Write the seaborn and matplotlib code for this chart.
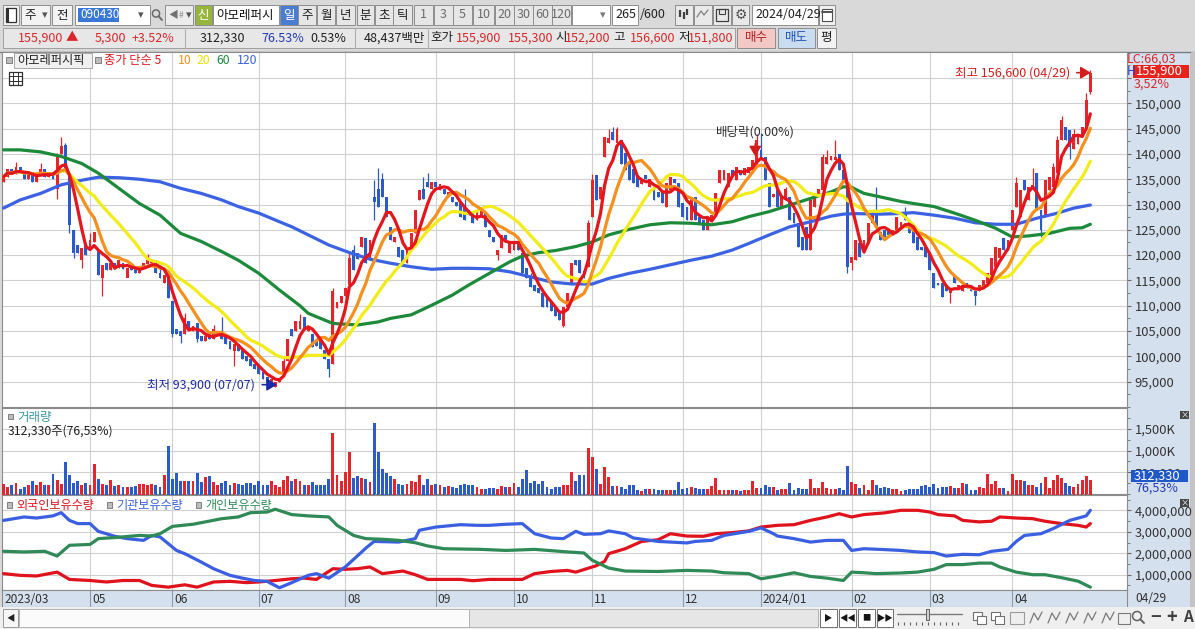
import numpy as np
import pandas as pd
import matplotlib
matplotlib.use("Agg")
import matplotlib.pyplot as plt
import matplotlib.transforms as mtransforms
from matplotlib.patches import Rectangle, Circle
from matplotlib.ticker import FixedLocator, FixedFormatter, MultipleLocator
import seaborn as sns

W, H = 1195, 629

# 일봉 (천원), 2023/03/31 ~ 2024/04/29, 265개
OPEN_K = [
    134.5, 135.5, 137.0, 136.0, 137.5, 136.5, 135.0, 136.5, 134.5, 136.0,
    137.0, 135.5, 136.5, 133.0, 140.0, 141.8, 136.0, 125.0, 122.0, 119.0,
    122.0, 121.0, 122.5, 121.0, 115.5, 118.5, 117.0, 118.5, 117.5, 118.5,
    115.5, 117.5, 117.5, 116.5, 117.5, 118.3, 118.5, 119.0, 116.5, 114.5,
    116.0, 111.0, 105.5, 105.0, 104.5, 107.0, 105.0, 106.5, 104.0, 103.0,
    104.5, 103.5, 104.5, 105.0, 104.0, 103.0, 101.0, 102.5, 101.5, 100.0,
    99.5, 98.5, 98.0, 97.0, 96.0, 94.5, 94.0, 95.0, 96.5, 99.0,
    105.5, 105.0, 105.5, 107.8, 105.0, 104.5, 103.0, 103.5, 101.3, 99.5,
    98.5, 109.5, 110.5, 112.0, 114.0, 121.0, 120.5, 121.6, 123.4, 119.0,
    131.5, 133.0, 135.0, 131.5, 125.6, 122.5, 121.6, 121.0, 118.4, 121.6,
    124.4, 130.9, 133.0, 134.5, 133.0, 134.5, 132.8, 133.0, 131.5, 131.5,
    130.5, 130.3, 130.0, 129.0, 128.5, 127.0, 127.5, 128.3, 125.0, 123.6,
    120.0, 121.5, 124.0, 120.5, 121.0, 122.5, 120.4, 117.5, 115.7, 114.0,
    113.5, 112.5, 111.5, 111.0, 109.8, 108.5, 106.0, 109.8, 114.4, 119.0,
    119.0, 116.8, 117.7, 127.5, 135.8, 131.0, 139.4, 142.2, 144.3, 142.2,
    142.8, 140.2, 138.1, 137.0, 135.8, 134.0, 135.8, 133.5, 133.5, 132.5,
    132.3, 129.6, 132.9, 135.0, 134.3, 130.3, 129.6, 127.0, 131.5, 127.5,
    127.0, 125.0, 126.5, 128.3, 134.3, 134.9, 133.5, 136.8, 134.9, 136.8,
    135.8, 136.2, 136.8, 138.1, 140.8, 139.4, 134.3, 131.5, 132.9, 129.6,
    130.9, 131.5, 128.3, 126.3, 123.6, 125.6, 121.0, 129.6, 132.0, 132.9,
    138.1, 138.8, 138.8, 140.0, 136.8, 133.5, 118.4, 119.0, 122.4, 120.5,
    122.4, 126.3, 128.0, 124.6, 125.0, 125.0, 124.0, 125.0, 125.5, 128.3,
    127.0, 125.6, 123.6, 121.6, 121.6, 120.4, 116.5, 114.5, 114.4, 114.0,
    112.5, 116.0, 113.5, 113.0, 114.5, 114.0, 113.0, 113.0, 113.8, 114.4,
    115.0, 117.7, 119.5, 123.4, 121.0, 125.0, 129.6, 127.5, 134.9, 130.9,
    133.0, 136.2, 128.9, 127.5, 132.9, 133.5, 136.2, 142.8, 145.3, 144.7,
    141.0, 142.0, 143.4, 145.3, 152.2,
]
CLOSE_K = [
    135.5, 137.0, 136.0, 137.5, 136.5, 135.0, 136.5, 134.5, 136.0, 137.0,
    135.5, 136.5, 135.0, 139.5, 141.5, 137.0, 126.0, 120.5, 120.5, 121.5,
    120.0, 123.0, 124.5, 116.0, 118.0, 117.0, 118.5, 117.5, 119.0, 117.3,
    117.5, 117.0, 116.5, 117.5, 118.5, 119.0, 119.0, 116.5, 115.5, 116.0,
    111.5, 104.5, 104.5, 104.0, 107.5, 105.5, 106.0, 103.5, 103.0, 104.0,
    103.5, 105.5, 105.0, 103.5, 102.5, 101.5, 102.5, 101.0, 99.5, 99.0,
    98.0, 97.5, 96.5, 95.5, 95.0, 95.5, 95.0, 95.8, 99.0, 103.5,
    104.0, 107.0, 107.0, 105.2, 106.0, 101.8, 102.0, 101.5, 99.5, 97.5,
    113.0, 110.7, 112.0, 113.5, 119.5, 117.0, 119.3, 123.6, 118.5, 123.0,
    130.5, 129.6, 131.5, 127.5, 123.0, 123.5, 119.7, 118.5, 121.0, 124.4,
    128.9, 132.9, 131.0, 133.5, 134.5, 133.5, 134.0, 132.0, 132.5, 130.5,
    129.8, 127.5, 127.0, 128.0, 126.3, 128.5, 128.8, 125.6, 123.6, 122.5,
    121.0, 124.0, 122.5, 122.5, 122.5, 121.0, 116.5, 115.5, 113.8, 113.0,
    112.5, 109.8, 109.8, 109.0, 107.9, 107.2, 109.8, 112.5, 118.4, 118.0,
    116.5, 115.5, 126.3, 134.9, 130.9, 133.5, 143.4, 143.2, 142.8, 145.0,
    138.1, 136.8, 134.9, 134.2, 133.5, 135.0, 135.0, 135.0, 130.9, 131.5,
    130.3, 134.3, 135.5, 134.3, 129.6, 127.5, 127.0, 131.5, 127.0, 126.3,
    125.0, 127.5, 128.0, 132.3, 136.8, 136.8, 136.2, 135.8, 137.5, 135.8,
    137.2, 137.5, 138.8, 142.8, 139.4, 134.9, 129.6, 132.0, 129.6, 131.5,
    133.0, 127.0, 126.3, 121.6, 121.0, 121.0, 130.9, 132.3, 133.0, 139.4,
    139.4, 139.5, 139.4, 136.8, 134.9, 117.7, 119.7, 123.0, 119.7, 123.0,
    126.3, 128.9, 125.6, 123.0, 123.5, 124.0, 125.0, 127.6, 126.5, 127.0,
    124.4, 122.4, 121.0, 121.0, 119.7, 117.0, 113.6, 114.0, 111.8, 113.0,
    113.5, 114.5, 114.0, 114.0, 113.5, 113.0, 112.0, 114.0, 115.0, 116.5,
    119.4, 121.6, 121.5, 121.0, 123.0, 128.9, 134.3, 132.9, 132.9, 133.5,
    133.8, 128.9, 125.0, 134.9, 135.5, 137.5, 142.8, 146.7, 142.8, 141.3,
    144.0, 143.8, 145.3, 150.6, 155.9,
]
# 꼬리가 보이는 날만
HIGH_K = {3: 138.5, 9: 138.3, 13: 140.2, 14: 143.3, 15: 142.2, 21: 124.3, 35: 120.2,
          38: 117.5, 44: 108.5, 51: 106.2, 53: 107.7, 68: 99.8, 72: 108.3, 80: 113.5,
          84: 120.5, 85: 122.0, 90: 134.9, 91: 137.2, 92: 136.2, 102: 135.5, 103: 136.2,
          112: 133.0, 128: 116.5, 142: 127.0, 143: 136.0, 147: 145.0, 148: 145.3,
          149: 145.3, 183: 144.0, 184: 144.1, 190: 133.5, 199: 140.0, 200: 140.8,
          202: 142.8, 212: 133.5, 219: 129.5, 246: 135.5, 250: 137.2, 255: 138.2,
          256: 143.5, 257: 147.5, 260: 145.0, 263: 152.0, 264: 156.6}
LOW_K = {13: 131.0, 16: 124.4, 17: 119.5, 19: 117.5, 24: 112.0, 30: 115.6, 41: 103.8,
         43: 102.6, 47: 102.8, 56: 98.0, 66: 93.9, 79: 96.0, 90: 127.0, 120: 119.0,
         136: 105.8, 142: 117.7, 205: 116.5, 206: 117.0, 230: 110.6, 236: 110.1,
         252: 123.6, 259: 139.0, 264: 151.8}

# 거래량 (천주)
VOL_K = [
    235, 152, 212, 258, 121, 152, 197, 303, 212, 280, 197, 197, 462, 326, 235, 735, 440, 258, 303, 197,
    258, 212, 690, 349, 235, 197, 326, 174, 197, 152, 152, 152, 174, 235, 235, 197, 235, 212, 152, 440,
    1099, 349, 485, 303, 303, 303, 303, 485, 280, 402, 417, 280, 197, 258, 303, 197, 258, 235, 212, 258,
    258, 212, 303, 197, 197, 303, 197, 152, 326, 417, 303, 349, 303, 197, 197, 280, 197, 212, 197, 349,
    1395, 440, 303, 508, 963, 371, 417, 371, 349, 280, 1637, 963, 576, 485, 417, 349, 235, 212, 235, 303,
    280, 440, 197, 349, 197, 235, 212, 152, 174, 152, 129, 212, 235, 212, 212, 152, 106, 106, 129, 129,
    106, 190, 167, 152, 258, 152, 349, 553, 258, 303, 235, 303, 152, 106, 167, 152, 212, 197, 508, 303,
    440, 440, 1054, 849, 576,
    235, 622, 394, 190, 190, 167, 121, 212, 212, 99, 76, 121, 106, 121, 99, 99, 99, 83, 99, 280,
    106, 129, 152, 144, 121, 106, 121, 190, 371, 99, 83, 83, 83, 83, 68, 99, 83, 303, 144, 144,
    212, 167, 167, 99, 121, 106, 258, 99, 144, 106, 121, 349, 144, 144, 280, 144, 106, 121, 144, 99,
    644, 280, 235, 144, 212, 99, 326, 212, 144, 167, 129, 121, 121, 76, 99, 121, 121, 121, 190, 212,
    167, 235, 144, 167, 167, 190, 129, 129, 258, 235, 99, 99, 167, 144, 462, 235, 303, 144, 144, 76,
    462, 326, 326, 296, 212, 212, 167, 258, 394, 144, 326, 440, 371, 258, 190, 167, 235, 326, 417, 312.33,
]

# 60일, 120일 이동평균 (그림에서 읽음, 천원)
MA60_IDX = [0, 4, 9, 14, 19, 23, 28, 33, 38, 43, 48, 53, 57, 62, 67, 72, 74, 80, 86, 91,
            94, 99, 104, 109, 113, 118, 123, 126, 130, 134, 139, 143, 147, 152, 157, 162, 167, 172, 177, 181,
            186, 191, 196, 201, 204, 206, 209, 213, 218, 221, 226, 231, 236, 241, 245, 249, 254, 259, 262, 264]
MA60_K = [140.8, 140.8, 140.4, 139.5, 138.1, 136.2, 133.2, 130.2, 127.9, 124.3,
          122.7, 120.7, 119.0, 116.4, 113.1, 110.0, 108.5, 106.5, 106.2, 106.8,
          107.5, 108.2, 110.1, 112.1, 114.1, 116.4, 118.7, 119.8, 120.5, 120.9,
          121.7, 122.6, 124.0, 125.1, 126.0, 126.4, 126.3, 126.0, 126.6, 127.6,
          128.6, 129.9, 131.2, 132.5, 133.5, 133.4, 132.2, 131.5, 130.6, 130.2,
          129.6, 128.3, 126.9, 125.3, 123.6, 123.8, 124.3, 125.3, 125.4, 126.1]
MA120_IDX = [0, 4, 9, 14, 19, 23, 28, 33, 38, 43, 48, 53, 57, 62, 67, 70, 74, 79, 84, 89,
             94, 99, 104, 109, 113, 118, 123, 128, 133, 138, 143, 147, 152, 157, 162, 167, 172, 177, 181, 186,
             191, 196, 201, 204, 207, 213, 217, 221, 226, 231, 236, 241, 246, 251, 256, 260, 264]
MA120_K = [129.3, 130.9, 132.2, 133.9, 134.8, 135.4, 135.3, 135.0, 134.5, 133.2,
           132.2, 130.9, 129.6, 128.3, 126.6, 125.6, 124.0, 122.0, 120.5, 119.2,
           118.4, 117.7, 117.2, 117.4, 117.4, 117.3, 116.7, 115.7, 114.7, 114.3,
           114.3, 115.4, 116.4, 117.2, 118.1, 119.0, 119.8, 121.0, 122.3, 124.0,
           125.6, 126.6, 127.7, 128.1, 128.2, 128.1, 128.2, 128.4, 127.9, 127.3,
           126.4, 126.1, 126.1, 127.3, 128.3, 129.3, 129.9]

# 보유수량 (백만주)
FOR_IDX = [0, 4, 8, 13, 16, 21, 25, 29, 33, 36, 40, 44, 47, 51, 55, 59, 62, 66, 70, 73,
           76, 80, 83, 86, 89, 92, 97, 100, 103, 107, 111, 114, 118, 122, 126, 129, 133, 137, 139, 142,
           144, 146, 147, 151, 155, 159, 162, 166, 170, 173, 177, 181, 184, 188, 192, 196, 200, 203, 206, 209,
           214, 218, 222, 225, 227, 231, 233, 237, 240, 242, 246, 250, 253, 257, 261, 263, 264]
FOR_M = [1.05, 0.97, 0.94, 1.12, 0.78, 0.73, 0.66, 0.73, 0.73, 0.50,
         0.42, 0.53, 0.42, 0.66, 0.69, 0.63, 0.66, 0.73, 0.81, 0.84,
         0.78, 1.28, 1.25, 1.28, 1.36, 1.05, 1.17, 1.00, 0.78, 0.78,
         0.78, 0.72, 0.78, 0.78, 0.78, 1.05, 1.15, 1.20, 1.12, 1.30,
         1.42, 1.62, 1.98, 2.21, 2.55, 2.63, 2.91, 2.80, 2.79, 2.91,
         2.96, 3.04, 3.22, 3.30, 3.33, 3.53, 3.69, 3.84, 3.69, 3.80,
         3.88, 4.00, 4.00, 3.92, 3.80, 3.74, 3.53, 3.46, 3.49, 3.69,
         3.64, 3.61, 3.49, 3.38, 3.30, 3.22, 3.38]
INS_IDX = [0, 5, 8, 12, 14, 16, 18, 21, 23, 27, 30, 34, 36, 38, 42, 44, 48, 51, 55, 58,
           61, 64, 67, 70, 74, 76, 79, 83, 87, 88, 90, 96, 100, 101, 105, 111, 115, 118, 122, 126,
           129, 133, 136, 139, 141, 145, 147, 151, 153, 159, 162, 166, 168, 172, 175, 181, 184, 187, 188, 192,
           196, 200, 204, 206, 209, 214, 218, 222, 226, 229, 233, 237, 240, 244, 246, 248, 252, 255, 259, 263, 264]
INS_M = [3.53, 3.69, 3.64, 3.74, 3.89, 3.53, 3.38, 3.38, 3.02, 2.79,
         2.68, 2.60, 2.83, 2.76, 2.13, 1.98, 1.59, 1.28, 0.97, 0.84,
         0.73, 0.69, 0.39, 0.63, 0.97, 1.05, 0.84, 1.36, 2.06, 2.24,
         2.55, 2.52, 2.68, 3.07, 3.22, 3.33, 3.30, 3.30, 3.35, 3.38,
         2.91, 2.71, 2.68, 3.02, 2.88, 2.91, 3.04, 2.91, 2.71, 2.55,
         2.52, 2.48, 2.55, 2.60, 2.83, 3.02, 3.18, 2.91, 2.80, 2.68,
         2.52, 2.60, 2.60, 2.13, 2.21, 2.17, 2.13, 2.06, 2.03, 1.87,
         1.95, 1.93, 2.09, 2.18, 2.55, 2.83, 2.91, 3.15, 3.53, 3.74, 4.00]
IND_IDX = [0, 5, 10, 13, 16, 21, 23, 27, 33, 36, 38, 41, 46, 49, 53, 57, 60, 64, 66, 70,
           74, 79, 81, 85, 88, 92, 96, 100, 103, 107, 116, 122, 129, 137, 141, 143, 147, 151, 159, 166,
           172, 175, 181, 184, 188, 192, 196, 200, 204, 206, 209, 212, 218, 222, 226, 229, 233, 237, 240, 242,
           246, 250, 253, 257, 261, 264]
IND_M = [2.09, 2.06, 2.09, 1.87, 2.37, 2.41, 2.68, 2.73, 2.83, 2.80,
         2.91, 3.25, 3.35, 3.46, 3.61, 3.69, 3.89, 3.92, 4.05, 3.80,
         3.74, 3.69, 3.30, 2.83, 2.68, 2.65, 2.60, 2.49, 2.34, 2.21,
         2.18, 2.13, 2.18, 2.06, 2.01, 1.67, 1.31, 1.17, 1.15, 1.20,
         1.17, 1.09, 1.05, 0.81, 0.94, 1.09, 0.92, 0.84, 0.73, 1.12,
         1.09, 1.05, 1.08, 1.12, 1.25, 1.47, 1.47, 1.54, 1.54, 1.36,
         1.12, 1.00, 1.00, 0.86, 0.70, 0.42]

MONTH_IDX = [0, 21, 41, 62, 83, 105, 124, 143, 165, 184, 206, 225, 245]
MONTH_LBL = ["2023/03", "05", "06", "07", "08", "09", "10", "11", "12", "2024/01", "02", "03", "04"]
PRICE_TICKS = [95000, 100000, 105000, 110000, 115000, 120000, 125000, 130000,
               135000, 140000, 145000, 150000, 155000]
PRICE_LBL = [f"{v:,}" for v in PRICE_TICKS[:-1]] + [""]   # 155,000 은 현재가 박스에 가려짐
VOL_TICKS = [500, 1000, 1500]
VOL_LBL = ["500,000", "1,000K", "1,500K"]
HOLD_TICKS = [1, 2, 3, 4]
HOLD_LBL = ["1,000,000", "2,000,000", "3,000,000", "4,000,000"]

C_UP, C_DN = '#e4252b', '#2a5bc9'
C_RED, C_BLUE, C_GREEN = '#d8262a', '#2338b8', '#2f8a58'
MA_COL = {5: '#e3161e', 10: '#f5901e', 20: '#f2ec1a', 60: '#1c8a3a', 120: '#3b62e2'}

sns.set_theme(style="white")
plt.rcParams['font.family'] = ['Noto Sans CJK KR', 'DejaVu Sans']
plt.rcParams['axes.unicode_minus'] = False

fig = plt.figure(figsize=(W / 100, H / 100), dpi=100)
fig.patch.set_facecolor('#d9d9d9')


def px_axes(x0, y0, x1, y1, z=2):
    return fig.add_axes([x0 / W, 1 - y1 / H, (x1 - x0) / W, (y1 - y0) / H], zorder=z)


def box(ax, x0, y0, x1, y1, fc, ec='#8e8e8e', lw=0.7, z=1):
    ax.add_patch(Rectangle((x0, y0), x1 - x0, y1 - y0, facecolor=fc,
                           edgecolor=ec, linewidth=lw, zorder=z))


def say(ax, x, y, s, color='#1e1e1e', size=9, ha='left', z=3, **kw):
    ax.text(x, y, s, color=color, fontsize=size, ha=ha, va='center', zorder=z, **kw)


bg = fig.add_axes([0, 0, 1, 1], zorder=0)
bg.set_xlim(0, W); bg.set_ylim(H, 0); bg.axis('off')

# 오른쪽 축 패널 / 날짜 띠
box(bg, 1127, 51, 1190, 607, '#d5e0ee', ec='none')
box(bg, 1190, 51, 1195, 607, '#c4c4c4', ec='none')
bg.plot([0, 1190], [51.5, 51.5], color='#7a7a7a', lw=1)

idx = np.arange(len(CLOSE_K))
o = np.array(OPEN_K) * 1000
c = np.array(CLOSE_K) * 1000
hi = np.maximum(o, c)
lo = np.minimum(o, c)
for k, v in HIGH_K.items():
    hi[k] = v * 1000
for k, v in LOW_K.items():
    lo[k] = v * 1000
col = np.where(c >= o, C_UP, C_DN)
XL = (-0.39, 272.9)


def chart_axes(y0, y1):
    a = px_axes(2, y0, 1127, y1)
    a.set_facecolor('white')
    for s in a.spines.values():
        s.set_color('#8c8c8c'); s.set_linewidth(0.8)
    a.grid(True, color='#d0d0d0', linewidth=0.8)
    a.set_axisbelow(True)
    a.yaxis.tick_right()
    a.tick_params(axis='x', length=0, labelbottom=False)
    a.tick_params(axis='y', which='major', length=3, width=0.8, color='#6a6a6a',
                  pad=2.5, labelsize=9.3, labelcolor='#333333', direction='out')
    a.tick_params(axis='y', which='minor', length=1.8, width=0.6, color='#6a6a6a', direction='out')
    return a


# ---- 가격 ----
ax_p = chart_axes(52, 407)
ax_p.bar(idx, np.maximum(np.abs(c - o), 250), bottom=np.minimum(o, c), width=0.7,
         color=col, linewidth=0, zorder=3)
ax_p.vlines(idx, lo, hi, colors=col, linewidth=0.9, zorder=3)
sns.lineplot(x=np.array(MA120_IDX), y=np.array(MA120_K) * 1000, ax=ax_p,
             color=MA_COL[120], linewidth=2.3, zorder=4)
sns.lineplot(x=np.array(MA60_IDX), y=np.array(MA60_K) * 1000, ax=ax_p,
             color=MA_COL[60], linewidth=2.3, zorder=4)
close_s = pd.Series(c)
for n in (20, 10, 5):
    ma = close_s.rolling(n, min_periods=1).mean().to_numpy()
    sns.lineplot(x=idx, y=ma, ax=ax_p, color=MA_COL[n], linewidth=2.3, zorder=4)
ax_p.set_xlim(*XL)
ax_p.set_ylim(89990, 160140)
ax_p.set_xticks(MONTH_IDX[1:])
ax_p.yaxis.set_major_locator(FixedLocator(PRICE_TICKS))
ax_p.yaxis.set_major_formatter(FixedFormatter(PRICE_LBL))
ax_p.yaxis.set_minor_locator(MultipleLocator(2500))
ax_p.set_xlabel(''); ax_p.set_ylabel('')

ax_p.text(61.1, 94400, '최저 93,900 (07/07)', color='#1c2aa8', fontsize=9,
          ha='right', va='center', zorder=6)
ax_p.annotate('', xy=(66.4, 94400), xytext=(62.8, 94400), zorder=6,
              arrowprops=dict(arrowstyle='-|>,head_length=0.5,head_width=0.3',
                              color='#1c2aa8', lw=1.2, shrinkA=0, shrinkB=0))
ax_p.text(259.1, 156050, '최고 156,600 (04/29)', color='#d21d1d', fontsize=9,
          ha='right', va='center', zorder=6)
ax_p.annotate('', xy=(264.1, 156050), xytext=(260.7, 156050), zorder=6,
              arrowprops=dict(arrowstyle='-|>,head_length=0.5,head_width=0.3',
                              color='#d21d1d', lw=1.2, shrinkA=0, shrinkB=0))
ax_p.text(182.6, 144400, '배당락(0.00%)', color='#303030', fontsize=9,
          ha='center', va='center', zorder=6)
ax_p.annotate('', xy=(182.6, 139500), xytext=(182.6, 142000), zorder=7,
              arrowprops=dict(arrowstyle='-|>,head_length=0.5,head_width=0.3',
                              color='#d21d1d', lw=1.2, shrinkA=0, shrinkB=0))

# ---- 거래량 ----
ax_v = chart_axes(408, 494)
ax_v.bar(idx, np.array(VOL_K), width=0.7, color=col, linewidth=0, zorder=3)
ax_v.set_xlim(*XL)
ax_v.set_ylim(0, 1982)
ax_v.set_xticks(MONTH_IDX[1:])
ax_v.yaxis.set_major_locator(FixedLocator(VOL_TICKS))
ax_v.yaxis.set_major_formatter(FixedFormatter(VOL_LBL))
ax_v.yaxis.set_minor_locator(MultipleLocator(250))

ax_s = px_axes(2, 491.5, 1127, 494.8, z=3)
ax_s.bar(idx, np.ones(len(idx)), width=0.6, color=col, linewidth=0)
ax_s.set_xlim(*XL); ax_s.set_ylim(0, 1)
ax_s.axis('off')

# ---- 보유수량 ----
ax_h = chart_axes(495, 590)
sns.lineplot(x=np.array(FOR_IDX), y=np.array(FOR_M), ax=ax_h, color='#e0121c', linewidth=2.3, zorder=4)
sns.lineplot(x=np.array(INS_IDX), y=np.array(INS_M), ax=ax_h, color='#3a5fe0', linewidth=2.3, zorder=4)
sns.lineplot(x=np.array(IND_IDX), y=np.array(IND_M), ax=ax_h, color='#2f8a58', linewidth=2.3, zorder=4)
ax_h.set_xlim(*XL)
ax_h.set_ylim(0.287, 4.713)
ax_h.set_xticks(MONTH_IDX[1:])
ax_h.yaxis.set_major_locator(FixedLocator(HOLD_TICKS))
ax_h.yaxis.set_major_formatter(FixedFormatter(HOLD_LBL))
ax_h.yaxis.set_minor_locator(MultipleLocator(0.5))
ax_h.set_xlabel(''); ax_h.set_ylabel('')

# ---- 날짜 띠 ----
ax_b = px_axes(2, 590, 1127, 607)
ax_b.set_facecolor('#d5e0ee')
ax_b.set_xlim(*XL); ax_b.set_ylim(0, 1)
ax_b.set_xticks([]); ax_b.set_yticks([])
for s in ax_b.spines.values():
    s.set_color('#8c8c8c'); s.set_linewidth(0.8)
blend = mtransforms.blended_transform_factory(ax_b.transData, ax_b.transAxes)
for i, lbl in zip(MONTH_IDX, MONTH_LBL):
    if i:
        ax_b.axvline(i, color='#8c9bb0', lw=0.8)
    ax_b.text(i + (0.35 if i == 0 else 0.45), 0.47, lbl, transform=blend, fontsize=8.6,
              color='#303030', ha='left', va='center')

# ---- 덮개 (툴바, 라벨) ----
top = fig.add_axes([0, 0, 1, 1], zorder=10)
top.set_xlim(0, W); top.set_ylim(H, 0); top.axis('off')

# 1행
box(top, 3, 5, 19, 25, '#f2f2f2')
box(top, 6, 8, 16, 22, 'white', ec='#303030', lw=0.9)
box(top, 6, 8, 9.5, 22, '#303030', ec='none')
box(top, 21, 5, 50, 25, '#f3f3f3'); say(top, 30.5, 15, '주', ha='center'); say(top, 45, 15, '▾', '#555555', 8, 'center')
box(top, 52, 5, 72, 25, '#f3f3f3'); say(top, 62, 15, '전', ha='center')
box(top, 75, 5, 150, 25, 'white')
box(top, 78, 8, 119, 22, '#3a78d8', ec='none', z=2)
say(top, 80, 15, '090430', 'white', 8.5)
say(top, 141, 15, '▾', '#555555', 8, 'center')
top.add_patch(Circle((156, 13.5), 3.6, facecolor='none', edgecolor='#6a6a6a', lw=1.1, zorder=3))
top.plot([158.6, 162], [16.2, 20], color='#6a6a6a', lw=1.4, zorder=3)
box(top, 165, 5, 193, 25, '#ececec')
say(top, 173, 15, '◀', '#707070', 7, 'center'); say(top, 181, 15, '#', '#909090', 6, 'center')
say(top, 189, 15, '▾', '#555555', 8, 'center')
box(top, 195, 5, 212, 25, '#97b53c'); say(top, 203.5, 15, '신', 'white', 9, 'center')
box(top, 213, 5, 279, 25, 'white'); say(top, 216, 15, '아모레퍼시', '#111111', 9)
box(top, 280, 5, 298, 25, '#4a7dd0'); say(top, 289, 15, '일', 'white', 9, 'center')
TABS = [("주", 298, 316), ("월", 317, 335), ("년", 336, 355), ("분", 357, 374), ("초", 375, 393),
        ("틱", 393, 412), ("1", 414, 433), ("3", 434, 453), ("5", 453, 472), ("10", 473, 494),
        ("20", 495, 514), ("30", 514, 533), ("60", 533, 552), ("120", 552, 571)]
for s, x0, x1 in TABS:
    box(top, x0, 5, x1, 25, '#e6e6e6')
    say(top, (x0 + x1) / 2, 15, s, '#202020' if not s.isdigit() else '#6a6a6a', 9, 'center')
box(top, 572, 5, 610, 25, 'white'); say(top, 603, 15, '▾', '#777777', 8, 'center')
box(top, 612, 5, 638, 25, 'white'); say(top, 636, 15, '265', '#202020', 9, 'right')
say(top, 640, 15, '/600', '#202020', 9)
for x0, x1 in [(675, 693), (694, 712), (713, 731), (732, 749)]:
    box(top, x0, 5, x1, 25, '#e9e9e9')
top.vlines([680, 684, 687], [10, 12, 9], [17, 19, 15], color='#404040', lw=1.6, zorder=3)
top.plot([697, 701, 704, 708], [17, 11, 15, 10], color='#808080', lw=0.9, zorder=3)
box(top, 716, 9, 728, 21, 'none', ec='#404040', lw=0.9, z=3)
box(top, 719, 9, 725, 14, 'none', ec='#404040', lw=0.8, z=3)
say(top, 740.5, 15, '⚙', '#505050', 10, 'center')
box(top, 752, 5, 818, 25, 'white'); say(top, 755, 15, '2024/04/29', '#202020', 9)
box(top, 819, 5, 835, 25, '#f0f0f0')
box(top, 822, 9, 832, 21, 'white', ec='#505050', lw=0.8, z=3)
top.plot([822, 832], [12, 12], color='#505050', lw=1.4, zorder=3)

# 2행
box(top, 3, 28, 735, 48, '#e7e7e7', ec='#a0a0a0')
for xd in (185, 355, 428):
    top.plot([xd, xd], [28, 48], color='#b0b0b0', lw=0.8, zorder=2)
ROW2 = [("155,900", 63, C_RED, 'right'), ("▲", 66, C_RED, 'left'), ("5,300", 126, C_RED, 'right'),
        ("+3.52%", 174, C_RED, 'right'), ("312,330", 245, '#202020', 'right'),
        ("76.53%", 304, C_BLUE, 'right'), ("0.53%", 346, '#202020', 'right'),
        ("48,437백만", 425, '#202020', 'right'), ("호가", 430, '#202020', 'left'),
        ("155,900", 501, C_RED, 'right'), ("155,300", 553, C_RED, 'right'),
        ("시", 555, '#202020', 'left'), ("152,200", 610, C_RED, 'right'),
        ("고", 613, '#202020', 'left'), ("156,600", 675, C_RED, 'right'),
        ("저", 678, '#202020', 'left'), ("151,800", 733, C_RED, 'right')]
for s, x, cl, ha in ROW2:
    say(top, x, 38, s, cl, 9, ha)
box(top, 737, 28, 775, 48, '#f3c9c6'); say(top, 756, 38, '매수', '#b02020', 9, 'center')
box(top, 778, 28, 815, 48, '#c9dcf2'); say(top, 796.5, 38, '매도', '#2050b0', 9, 'center')
box(top, 817, 28, 836, 48, '#f2f2f2'); say(top, 826.5, 38, '평', '#202020', 9, 'center')

# 가격 패널 범례
box(top, 6, 57, 12, 63, '#bcbcbc', ec='#808080')
box(top, 14, 53, 92, 68, '#f0f0f0', ec='#a8a8a8')
say(top, 17, 60.5, '아모레퍼시픽', '#202020', 8.8)
box(top, 95, 57, 101, 63, '#bcbcbc', ec='#808080')
say(top, 104, 60.5, '종가 단순 5', MA_COL[5], 8.8)
say(top, 178, 60.5, '10', MA_COL[10], 8.8)
say(top, 197, 60.5, '20', '#e8e000', 8.8)
say(top, 216, 60.5, '60', MA_COL[60], 8.8)
say(top, 237, 60.5, '120', MA_COL[120], 8.8)
box(top, 9, 72, 22, 85, 'white', ec='#303030', lw=0.9)
for g in (76.3, 80.6):
    top.plot([9, 22], [g, g], color='#303030', lw=0.7, zorder=3)
for g in (13.3, 17.6):
    top.plot([g, g], [72, 85], color='#303030', lw=0.7, zorder=3)

# 오른쪽 가격 표시
say(top, 1127, 59, 'LC:66,03', C_RED, 9)
say(top, 1127, 71.5, 'H', C_BLUE, 8.5)
box(top, 1133, 65, 1189, 78, '#e8231c', ec='none')
say(top, 1136, 71.5, '155,900', 'white', 9.3)
say(top, 1134, 84.5, '3,52%', C_RED, 9)

# 거래량 패널 라벨
box(top, 8, 414, 13, 419, '#bcbcbc', ec='#808080')
say(top, 17, 418, '거래량', '#3a9aa0', 9)
say(top, 8, 431, '312,330주(76,53%)', '#202020', 8.8)
box(top, 1131, 470, 1188, 482, '#2058c8', ec='none')
say(top, 1134, 476, '312,330', 'white', 9.3)
say(top, 1135, 488.5, '76,53%', C_BLUE, 9)
for yb in (411, 499):
    box(top, 1180, yb, 1189, yb + 8, '#454545', ec='none')
    say(top, 1184.5, yb + 4, '×', 'white', 6, 'center')

# 보유수량 패널 라벨
for x0, s, cl in [(7, '외국인보유수량', '#e0121c'), (107, '기관보유수량', '#3a5fe0'), (196, '개인보유수량', '#2f8a58')]:
    box(top, x0, 502, x0 + 5, 508, '#bcbcbc', ec='#808080')
    say(top, x0 + 9, 505, s, cl, 8.7)

say(top, 1135, 598.5, '04/29', '#303030', 8.6)

# 스크롤바
box(top, 0, 607, W, H, '#efefef', ec='none', z=0.5)
box(top, 3, 609, 18, 627, '#f7f7f7', ec='#9a9a9a'); say(top, 10.5, 618, '◀', '#202020', 6, 'center')
box(top, 19, 609, 469, 627, '#fbfbfb', ec='#b5b5b5')
box(top, 469, 609, 818, 627, '#e6e6e6', ec='#b5b5b5')
for x0, x1, s in [(820, 837, '▶'), (839, 856, '◀◀'), (858, 875, '■'), (877, 893, '▶▶')]:
    box(top, x0, 609, x1, 627, 'white', ec='#707070')
    say(top, (x0 + x1) / 2, 618, s, '#151515', 6, 'center')
top.plot([897, 962], [614, 614], color='#7a7a7a', lw=1, zorder=3)
box(top, 926, 609, 929, 620, '#d0d0d0', ec='#606060', lw=0.7, z=3)
top.vlines(np.arange(898, 963, 6), 622, 624.5, color='#606060', lw=0.8, zorder=3)
for x0 in (973, 991):
    box(top, x0, 612, x0 + 9, 620, 'white', ec='#707070', lw=0.8, z=3)
    box(top, x0 + 4, 616, x0 + 13, 624, 'white', ec='#707070', lw=0.8, z=3)
box(top, 1010, 612, 1024, 624, 'none', ec='#9a9a9a', lw=0.8, z=3)
for x0 in (1030, 1048, 1066, 1084, 1102):
    top.plot([x0, x0 + 4, x0 + 8, x0 + 12], [623, 613, 620, 612], color='#7a7a7a', lw=0.9, zorder=3)
box(top, 1118, 613, 1130, 624, 'none', ec='#7a7a7a', lw=0.8, z=3)
top.add_patch(Circle((1137, 616), 4.5, facecolor='none', edgecolor='#606060', lw=1.1, zorder=3))
top.plot([1140.5, 1144], [619.5, 623], color='#606060', lw=1.4, zorder=3)
say(top, 1156, 617.5, '−', '#404040', 13, 'center', weight='bold')
say(top, 1172, 617.5, '+', '#404040', 13, 'center', weight='bold')
say(top, 1188, 617.5, 'A', '#404040', 11, 'center', weight='bold')

fig.savefig('out.png', dpi=100, facecolor=fig.get_facecolor())
